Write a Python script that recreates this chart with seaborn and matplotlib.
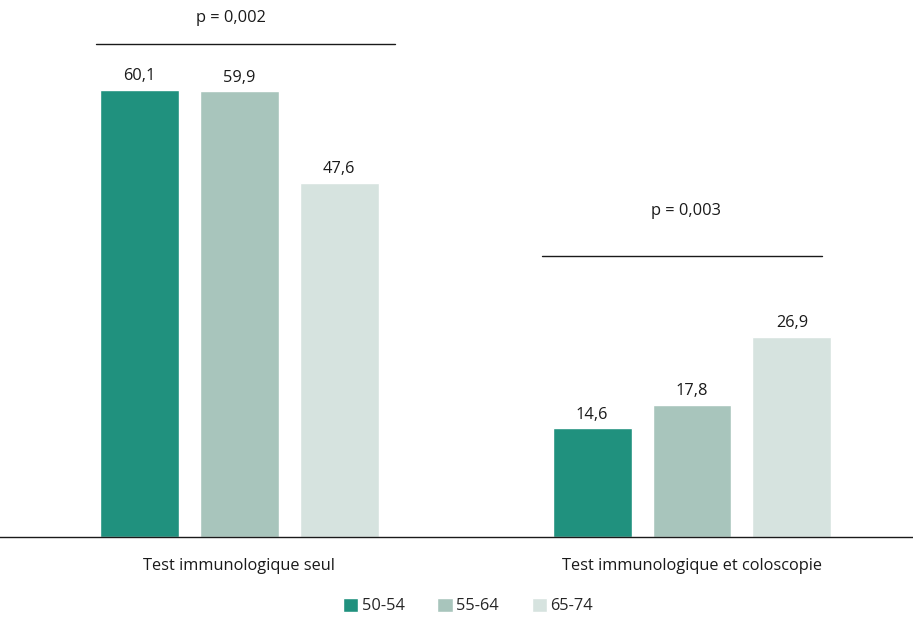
import matplotlib
matplotlib.use("Agg")
import matplotlib.pyplot as plt
import seaborn as sns
import pandas as pd

# Share of people (%) by test strategy and age group
categories = ["Test immunologique seul", "Test immunologique et coloscopie"]
age_groups = ["50-54", "55-64", "65-74"]
values_50_54 = [60.1, 14.6]
values_55_64 = [59.9, 17.8]
values_65_74 = [47.6, 26.9]
p_values = ["p = 0,002", "p = 0,003"]

palette = ["#20917e", "#a8c5bc", "#d6e3df"]

rows = []
for grp, vals in zip(age_groups, [values_50_54, values_55_64, values_65_74]):
    for cat, v in zip(categories, vals):
        rows.append({"categorie": cat, "age": grp, "valeur": v})
df = pd.DataFrame(rows)

sns.set_theme(style="white")
plt.rcParams["font.family"] = ["Open Sans", "DejaVu Sans"]
FS = 11.8

fig = plt.figure(figsize=(9.13, 6.17), dpi=100)
ax = fig.add_axes([0.0, 80 / 617, 1.0, 537 / 617])

sns.barplot(data=df, x="categorie", y="valeur", hue="age", order=categories,
            hue_order=age_groups, palette=palette, width=0.662, gap=0.21,
            saturation=1, ax=ax, legend=True)

for cont in ax.containers:
    ax.bar_label(cont, labels=[f"{v:.1f}".replace(".", ",") for v in cont.datavalues],
                 padding=4, fontsize=FS, color="#1a1a1a")

ax.set_xlim(-0.528, 1.488)
ax.set_ylim(0, 72.2)
ax.set_xlabel("")
ax.set_ylabel("")
ax.set_yticks([])
ax.tick_params(axis="x", length=0, pad=15, labelsize=FS, labelcolor="#1a1a1a")
for side in ["top", "right", "left"]:
    ax.spines[side].set_visible(False)
ax.spines["bottom"].set_color("#1a1a1a")
ax.spines["bottom"].set_linewidth(1.0)

# Significance brackets above each group
brackets = [(-0.316, 0.344, 66.3, 69.8, -0.017), (0.669, 1.287, 37.8, 43.8, 0.986)]
for (x0, x1, yl, yt, xt), txt in zip(brackets, p_values):
    ax.plot([x0, x1], [yl, yl], color="#1a1a1a", lw=1.0, clip_on=False)
    ax.text(xt, yt, txt, ha="center", va="center", fontsize=FS, color="#1a1a1a")

handles, labels = ax.get_legend_handles_labels()
ax.get_legend().remove()
fig.legend(handles, labels, loc="center", bbox_to_anchor=(468 / 913, 1 - 606 / 617),
           ncol=3, frameon=False, handlelength=0.95, handleheight=0.95,
           handletextpad=0.2, columnspacing=2.0, fontsize=FS)

fig.savefig("out.png", dpi=100)
